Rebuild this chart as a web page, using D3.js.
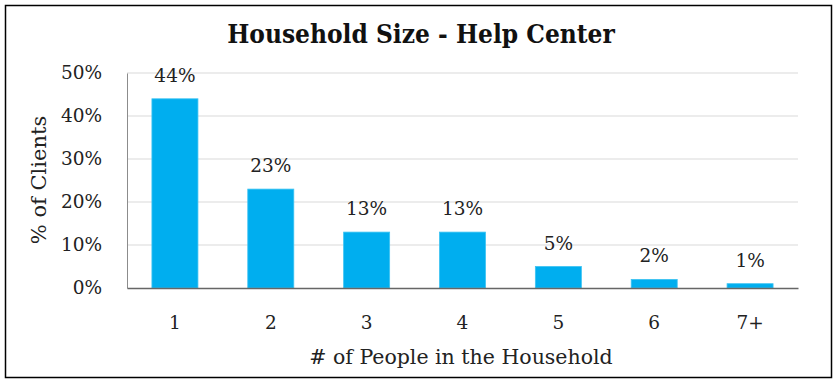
<!DOCTYPE html>
<html>
<head>
<meta charset="utf-8">
<script src="https://cdn.jsdelivr.net/npm/d3@7"></script>
<style>
  html, body { margin: 0; padding: 0; background: #fff; }
  svg { display: block; }
</style>
</head>
<body>
<svg id="chart" width="837" height="381"></svg>
<script>
// Household size distribution
const categories = ["1", "2", "3", "4", "5", "6", "7+"];
const percentValues = [44, 23, 13, 13, 5, 2, 1];
const yTickValues = [0, 10, 20, 30, 40, 50];

const width = 837, height = 381;
const margin = { top: 73, right: 39, bottom: 93, left: 127 };
const serif = "'DejaVu Serif', 'Liberation Serif', serif";
const titleFont = "'DejaVu Serif Condensed', 'DejaVu Serif', serif";

const svg = d3.select("#chart");

// outer frame
svg.append("rect")
  .attr("x", 5.5).attr("y", 5.5)
  .attr("width", 826).attr("height", 372)
  .attr("fill", "#fff").attr("stroke", "#000").attr("stroke-width", 1.5);

const x = d3.scaleBand()
  .domain(categories)
  .range([margin.left, width - margin.right])
  .paddingInner(0.52).paddingOuter(0.26);

const y = d3.scaleLinear()
  .domain([0, 50])
  .range([height - margin.bottom, margin.top]);

// horizontal gridlines
svg.append("g")
  .selectAll("line")
  .data(yTickValues.filter(d => d > 0))
  .join("line")
  .attr("x1", margin.left).attr("x2", width - margin.right)
  .attr("y1", d => y(d)).attr("y2", d => y(d))
  .attr("stroke", "#d9d9d9").attr("stroke-width", 1);

// y axis
const yAxis = svg.append("g")
  .attr("transform", `translate(${margin.left},0)`)
  .call(d3.axisLeft(y).tickValues(yTickValues).tickFormat(d => d + "%").tickSize(0).tickPadding(25));
yAxis.select(".domain").attr("stroke", "#8c8c8c");
yAxis.selectAll("text")
  .attr("font-family", serif).attr("font-size", 18.5).attr("fill", "#222");

// bars
svg.append("g")
  .selectAll("rect")
  .data(percentValues)
  .join("rect")
  .attr("x", (d, i) => x(categories[i]))
  .attr("width", x.bandwidth())
  .attr("y", d => y(d))
  .attr("height", d => y(0) - y(d))
  .attr("fill", "#00aeef")
  .attr("stroke", "#3cc3f2").attr("stroke-width", 0.8);

// value labels
svg.append("g")
  .selectAll("text")
  .data(percentValues)
  .join("text")
  .attr("x", (d, i) => x(categories[i]) + x.bandwidth() / 2)
  .attr("y", d => y(d) - 17)
  .attr("text-anchor", "middle")
  .attr("font-family", serif).attr("font-size", 18.5).attr("fill", "#222")
  .text(d => d + "%");

// x axis
const xAxis = svg.append("g")
  .attr("transform", `translate(0,${height - margin.bottom})`)
  .call(d3.axisBottom(x).tickSize(0).tickPadding(28));
xAxis.select(".domain").attr("stroke", "#666").attr("stroke-width", 1.3);
xAxis.selectAll("text")
  .attr("font-family", serif).attr("font-size", 18.5).attr("fill", "#222");

// titles
svg.append("text")
  .attr("x", 421).attr("y", 43)
  .attr("text-anchor", "middle")
  .attr("font-family", titleFont).attr("font-weight", "bold").attr("font-size", 26)
  .attr("fill", "#111")
  .text("Household Size - Help Center");

svg.append("text")
  .attr("x", 461).attr("y", 364)
  .attr("text-anchor", "middle")
  .attr("font-family", serif).attr("font-size", 20.5).attr("fill", "#222")
  .text("# of People in the Household");

svg.append("text")
  .attr("transform", "translate(46,180) rotate(-90)")
  .attr("text-anchor", "middle")
  .attr("font-family", serif).attr("font-size", 21).attr("fill", "#222")
  .text("% of Clients");
</script>
</body>
</html>
